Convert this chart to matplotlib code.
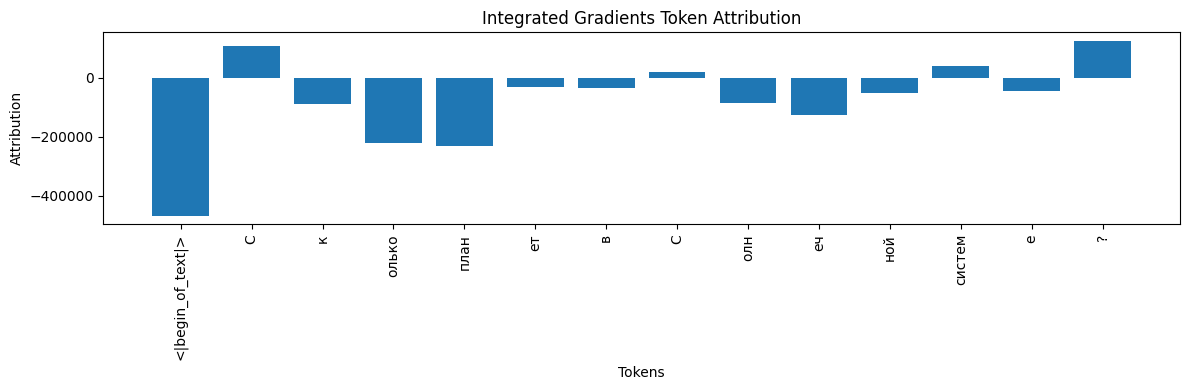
import matplotlib.pyplot as plt

tokens = ['<|begin_of_text|>', 'С', 'к', 'олько', 'план', 'ет', 'в', 'С',
          'олн', 'еч', 'ной', 'систем', 'е', '?']
attributions = [-468000, 108000, -88000, -220000, -230000, -30000, -34000,
                20000, -85000, -125000, -51000, 41000, -44000, 125000]

plt.figure(figsize=(12, 4))
plt.bar(range(len(tokens)), attributions)
plt.xticks(range(len(tokens)), tokens, rotation=90)
plt.title('Integrated Gradients Token Attribution')
plt.xlabel('Tokens')
plt.ylabel('Attribution')
plt.tight_layout()
plt.savefig('out.png', dpi=100, bbox_inches='tight')
